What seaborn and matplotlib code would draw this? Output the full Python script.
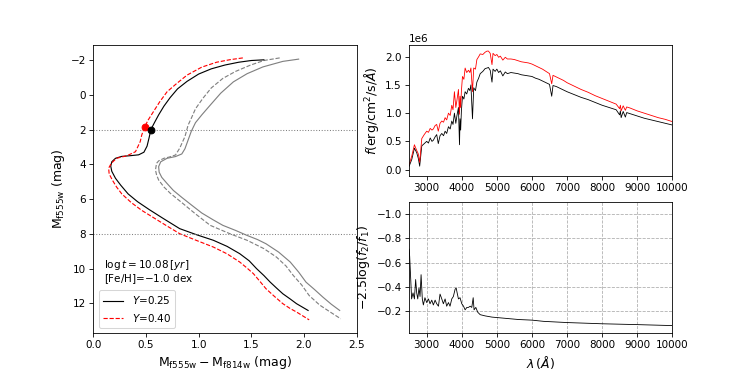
import numpy as np
import pandas as pd
import matplotlib
matplotlib.use("Agg")
import matplotlib.pyplot as plt
import seaborn as sns

# ---------------- CMD data (colour, magnitude) ----------------
black_color = [1.62, 1.50, 1.38, 1.25, 1.12, 1.00, 0.89, 0.80, 0.73, 0.67, 0.62, 0.58, 0.546, 0.53, 0.51,
               0.48, 0.43, 0.35, 0.27, 0.21, 0.175, 0.165, 0.175, 0.21, 0.26, 0.33, 0.42, 0.53, 0.66, 0.82,
               0.98, 1.14, 1.27, 1.39, 1.48, 1.55, 1.62, 1.68, 1.74, 1.80, 1.87, 1.93, 2.04]
black_mag = [-2.02, -1.98, -1.88, -1.72, -1.50, -1.20, -0.78, -0.35, 0.15, 0.65, 1.15, 1.6, 2.0, 2.45, 2.95,
             3.3, 3.45, 3.5, 3.54, 3.65, 3.85, 4.1, 4.4, 4.8, 5.2, 5.7, 6.15, 6.6, 7.1, 7.70,
             8.05, 8.37, 8.72, 9.14, 9.55, 10.0, 10.4, 10.78, 11.12, 11.45, 11.75, 12.02, 12.41]

red_color = [1.42, 1.30, 1.17, 1.03, 0.89, 0.79, 0.70, 0.63, 0.57, 0.52, 0.486, 0.46, 0.445, 0.40, 0.32,
             0.22, 0.17, 0.145, 0.15, 0.18, 0.22, 0.27, 0.36, 0.46, 0.58, 0.70, 0.82, 0.98, 1.14, 1.27,
             1.39, 1.46, 1.52, 1.58, 1.64, 1.72, 1.80, 1.87, 1.93, 2.05]
red_mag = [-2.13, -2.03, -1.88, -1.60, -1.14, -0.65, -0.18, 0.4, 0.97, 1.45, 1.86, 2.3, 2.69, 3.27, 3.5,
           3.65, 3.94, 4.22, 4.55, 4.9, 5.3, 5.7, 6.2, 6.65, 7.1, 7.55, 7.99, 8.38, 8.76, 9.15,
           9.62, 9.97, 10.29, 10.72, 11.16, 11.6, 12.02, 12.3, 12.5, 12.95]

gray_solid_color = [1.95, 1.80, 1.61, 1.46, 1.33, 1.21, 1.11, 1.03, 0.97, 0.93, 0.90, 0.87, 0.84, 0.78, 0.70,
                    0.64, 0.62, 0.625, 0.65, 0.70, 0.76, 0.84, 0.93, 1.03, 1.14, 1.23, 1.35, 1.46, 1.56, 1.64,
                    1.76, 1.87, 1.95, 2.02, 2.10, 2.18, 2.26, 2.34]
gray_solid_mag = [-2.06, -1.93, -1.61, -1.22, -0.75, -0.1, 0.59, 1.15, 1.6, 2.1, 2.6, 3.1, 3.4, 3.55, 3.65,
                  3.85, 4.13, 4.45, 4.75, 5.1, 5.5, 5.9, 6.33, 6.8, 7.2, 7.51, 7.8, 8.09, 8.33, 8.57,
                  9.05, 9.62, 10.2, 10.78, 11.2, 11.64, 12.05, 12.41]

gray_dash_color = [1.77, 1.62, 1.49, 1.35, 1.23, 1.12, 1.04, 0.97, 0.93, 0.90, 0.87, 0.82, 0.78, 0.72, 0.67,
                   0.62, 0.60, 0.59, 0.60, 0.62, 0.67, 0.73, 0.84, 0.97, 1.11, 1.30, 1.46, 1.62, 1.74, 1.83,
                   1.90, 1.98, 2.05, 2.15, 2.25, 2.35]
gray_dash_mag = [-2.13, -1.98, -1.71, -1.35, -0.95, -0.4, 0.2, 0.8, 1.35, 1.74, 2.4, 3.07, 3.46, 3.58, 3.65,
                 3.8, 3.94, 4.32, 4.6, 4.9, 5.3, 5.66, 6.2, 6.85, 7.51, 8.0, 8.37, 8.85, 9.34, 9.85,
                 10.4, 10.95, 11.55, 12.1, 12.5, 12.89]

dot_black = (0.546, 2.0)
dot_red = (0.486, 1.86)
hlines_mag = [2, 8]

# ---------------- spectra (flux in units of 1e6) ----------------
wave = [2500, 2575, 2650, 2715, 2760, 2800, 2860, 2930, 3000, 3050, 3100, 3150, 3190, 3240, 3285, 3330,
        3380, 3430, 3480, 3525, 3570, 3620, 3670, 3715, 3750, 3790, 3830, 3860, 3905, 3935, 3950, 3968,
        3990, 4020, 4060, 4095, 4140, 4190, 4230, 4260, 4305, 4340, 4390, 4430, 4480, 4525, 4600, 4665,
        4720, 4760, 4810, 4861, 4890, 4950, 5000, 5050, 5100, 5170, 5240, 5300, 5400, 5500, 5600, 5700,
        5800, 5900, 6000, 6100, 6200, 6300, 6400, 6500, 6563, 6600, 6700, 6800, 6900, 7000, 7200, 7400,
        7600, 7800, 8000, 8200, 8400, 8498, 8520, 8542, 8600, 8662, 8700, 8800, 9000, 9200, 9400, 9600,
        9800, 10000]
flux_y025 = [0.06, 0.18, 0.38, 0.30, 0.20, 0.06, 0.42, 0.46, 0.50, 0.47, 0.56, 0.50, 0.52, 0.58, 0.62, 0.46,
             0.60, 0.64, 0.60, 0.68, 0.64, 0.76, 0.72, 0.86, 0.80, 1.00, 0.82, 0.95, 1.10, 0.44, 0.90, 0.70,
             1.05, 1.30, 1.25, 1.38, 1.34, 1.44, 1.40, 1.50, 0.90, 1.45, 1.40, 1.55, 1.62, 1.70, 1.74, 1.79,
             1.80, 1.81, 1.76, 1.55, 1.78, 1.74, 1.78, 1.72, 1.75, 1.66, 1.73, 1.70, 1.72, 1.71, 1.70, 1.68,
             1.67, 1.66, 1.65, 1.62, 1.60, 1.57, 1.54, 1.51, 1.30, 1.49, 1.47, 1.44, 1.41, 1.38, 1.33, 1.28,
             1.24, 1.19, 1.14, 1.10, 1.06, 0.97, 1.04, 0.92, 1.03, 0.93, 1.01, 0.99, 0.95, 0.91, 0.88, 0.85,
             0.82, 0.79]
flux_y040 = [0.09, 0.24, 0.44, 0.34, 0.28, 0.13, 0.55, 0.62, 0.68, 0.66, 0.73, 0.70, 0.72, 0.78, 0.80, 0.68,
             0.82, 0.86, 0.84, 0.92, 0.88, 1.00, 0.96, 1.14, 1.06, 1.38, 1.10, 1.22, 1.42, 0.98, 1.30, 1.10,
             1.40, 1.65, 1.60, 1.80, 1.72, 1.76, 1.72, 1.80, 1.38, 1.80, 1.78, 1.95, 2.00, 2.05, 2.04, 2.08,
             2.10, 2.10, 2.06, 1.86, 2.06, 2.02, 2.04, 1.99, 2.01, 1.94, 1.99, 1.96, 1.96, 1.95, 1.93, 1.91,
             1.90, 1.89, 1.87, 1.84, 1.81, 1.78, 1.74, 1.70, 1.52, 1.67, 1.64, 1.61, 1.58, 1.54, 1.48, 1.42,
             1.37, 1.31, 1.26, 1.21, 1.16, 1.08, 1.14, 1.04, 1.13, 1.05, 1.11, 1.09, 1.04, 1.00, 0.96, 0.92,
             0.89, 0.85]
flux_unit = 1e6

ratio_wave = [2500, 2515, 2545, 2570, 2610, 2650, 2685, 2715, 2745, 2780, 2810, 2840, 2875, 2905, 2950,
              3000, 3050, 3095, 3145, 3190, 3240, 3285, 3335, 3380, 3430, 3475, 3525, 3570, 3620, 3665,
              3715, 3760, 3810, 3840, 3875, 3905, 3950, 4000, 4050, 4095, 4145, 4190, 4240, 4285, 4325,
              4350, 4400, 4455, 4525, 4665, 4860, 5050, 5240, 5620, 6000, 6330, 7000, 8000, 9000, 10000]
ratio_mag = [-0.71, -0.65, -0.46, -0.30, -0.35, -0.30, -0.46, -0.35, -0.30, -0.39, -0.32, -0.50, -0.30,
             -0.25, -0.31, -0.27, -0.30, -0.26, -0.29, -0.25, -0.29, -0.26, -0.24, -0.34, -0.30, -0.26,
             -0.30, -0.24, -0.27, -0.24, -0.30, -0.32, -0.38, -0.39, -0.34, -0.30, -0.31, -0.26, -0.24,
             -0.21, -0.23, -0.23, -0.24, -0.23, -0.31, -0.21, -0.23, -0.19, -0.17, -0.16, -0.15, -0.145,
             -0.14, -0.13, -0.125, -0.115, -0.105, -0.095, -0.088, -0.08]

# ---------------- figure ----------------
fig = plt.figure(figsize=(10, 374 / 74.7), dpi=74.7)
ax1 = fig.add_subplot(1, 2, 1)
ax2 = fig.add_subplot(2, 2, 2)
ax3 = fig.add_subplot(2, 2, 4)

def line(ax, x, y, **kw):
    df = pd.DataFrame({"x": x, "y": y})
    sns.lineplot(data=df, x="x", y="y", sort=False, estimator=None, ax=ax, legend=False, **kw)

# CMD
line(ax1, gray_solid_color, gray_solid_mag, color="gray", lw=1.1)
line(ax1, gray_dash_color, gray_dash_mag, color="gray", lw=1.1, linestyle="--")
line(ax1, black_color, black_mag, color="black", lw=1.1, label="$Y$=0.25")
line(ax1, red_color, red_mag, color="red", lw=1.1, linestyle="--", label="$Y$=0.40")
for m in hlines_mag:
    ax1.axhline(m, color="gray", ls=":", lw=1)
ax1.plot([dot_red[0]], [dot_red[1]], "o", color="red", ms=6.5)
ax1.plot([dot_black[0]], [dot_black[1]], "o", color="black", ms=6.5)
ax1.set_xlim(0, 2.5)
ax1.set_ylim(13.7, -2.88)
ax1.set_xticks([0.0, 0.5, 1.0, 1.5, 2.0, 2.5])
ax1.set_yticks([-2, 0, 2, 4, 6, 8, 10, 12])
ax1.set_xlabel(r"$\mathrm{M_{f555w}-M_{f814w}}$ (mag)", fontsize=12)
ax1.set_ylabel(r"$\mathrm{M_{f555w}}$ (mag)", fontsize=12)
ax1.text(0.04, 0.236, r"$\log t = 10.08\,[yr]$", transform=ax1.transAxes, va="center", fontsize=10)
ax1.text(0.04, 0.187, r"[Fe/H]=$-$1.0 dex", transform=ax1.transAxes, va="center", fontsize=10)
ax1.legend(loc="lower left", fontsize=10)

# spectra
fb = [v * flux_unit for v in flux_y025]
fr = [v * flux_unit for v in flux_y040]
line(ax2, wave, fb, color="black", lw=0.8)
line(ax2, wave, fr, color="red", lw=0.8)
ax2.set_xlim(2500, 10000)
ax2.set_ylim(-0.11e6, 2.21e6)
ax2.set_xticks(range(3000, 10001, 1000))
ax2.set_xlabel("")
ax2.set_ylabel(r"$f$(erg/cm$^2$/s/$\AA$)", fontsize=12)

# ratio
line(ax3, ratio_wave, ratio_mag, color="black", lw=0.8)
ax3.set_xlim(2500, 10000)
ax3.set_ylim(-0.02, -1.10)
ax3.set_xticks(range(3000, 10001, 1000))
ax3.set_yticks([-1.0, -0.8, -0.6, -0.4, -0.2])
ax3.grid(True, ls="--", color="#b0b0b0", lw=0.8)
ax3.set_axisbelow(True)
ax3.set_xlabel(r"$\lambda\,(\AA)$", fontsize=12)
ax3.set_ylabel(r"$-2.5\log(f_2/f_1)$", fontsize=12)

fig.savefig("out.png", dpi=74.7)
